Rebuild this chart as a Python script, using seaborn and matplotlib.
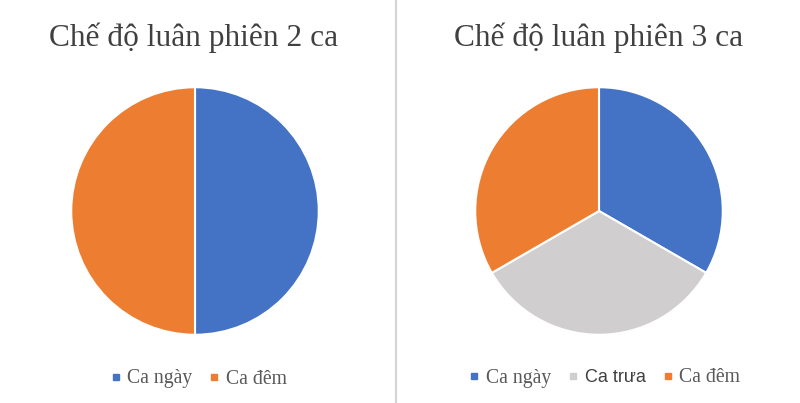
import matplotlib
matplotlib.use("Agg")
import matplotlib.pyplot as plt
from matplotlib.lines import Line2D
import seaborn as sns

# data
titles = ["Chế độ luân phiên 2 ca", "Chế độ luân phiên 3 ca"]
labels_2ca = ["Ca ngày", "Ca đêm"]
values_2ca = [50, 50]
labels_3ca = ["Ca ngày", "Ca trưa", "Ca đêm"]
values_3ca = [1, 1, 1]
colors_2ca = ["#4472C4", "#ED7D31"]
colors_3ca = ["#4472C4", "#D0CECE", "#ED7D31"]

sns.set_theme(style="white")
plt.rcParams['font.family'] = ['Liberation Serif', 'DejaVu Serif']

fig = plt.figure(figsize=(8, 4.03), dpi=100)
fig.patch.set_facecolor("white")

W, H = 800, 403

def pie_axes(cx, cy, r):
    return fig.add_axes([(cx - r) / W, (H - cy - r) / H, 2 * r / W, 2 * r / H])

def draw(ax, values, colors):
    ax.pie(values, colors=colors, startangle=90, counterclock=False,
           radius=1, wedgeprops=dict(edgecolor="white", linewidth=1.5))
    ax.set_xlim(-1.01, 1.01)
    ax.set_ylim(-1.01, 1.01)
    ax.set_aspect("equal")
    ax.axis("off")

ax1 = pie_axes(195, 211, 125)
draw(ax1, values_2ca, colors_2ca)
ax2 = pie_axes(599, 211, 125)
draw(ax2, values_3ca, colors_3ca)

fig.text(194 / W, 1 - 38 / H, titles[0], ha="center", va="center",
         fontsize=22.6, color="#404040")
fig.text(599 / W, 1 - 38 / H, titles[1], ha="center", va="center",
         fontsize=22.6, color="#404040")

# divider line
fig.add_artist(Line2D([396 / W, 396 / W], [0, 1], color="#D4D4D4", linewidth=1.5))

def legend(labels, colors, x, y):
    handles = [Line2D([], [], marker="s", linestyle="", markersize=5,
                      markerfacecolor=c, markeredgecolor=c) for c in colors]
    leg = fig.legend(handles, labels, loc="center", bbox_to_anchor=(x / W, 1 - y / H),
                     ncol=len(labels), frameon=False, fontsize=14.2,
                     handlelength=0.5, handletextpad=0.35, columnspacing=0.85,
                     labelcolor="#595959")
    return leg

legend(labels_2ca, colors_2ca, 199, 379)
leg2 = legend(labels_3ca, colors_3ca, 605, 378)
t = leg2.get_texts()[1]
t.set_fontfamily(["Liberation Sans", "DejaVu Sans"])
t.set_fontsize(13)
t.set_color("#404040")

fig.savefig("out.png", dpi=100, facecolor="white")
